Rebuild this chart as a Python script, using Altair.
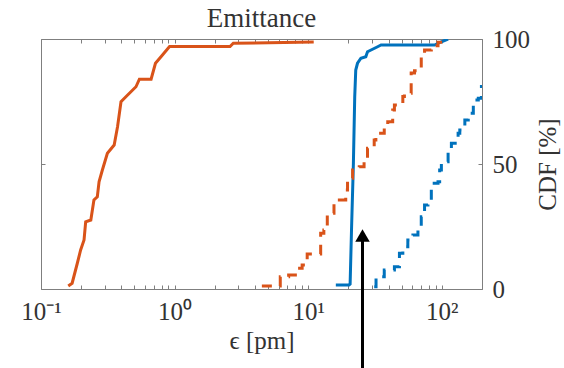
import altair as alt
import pandas as pd

# Cumulative distributions of emittance (pm) -> CDF (%)
orange_solid_x = [0.160, 0.171, 0.187, 0.198, 0.210, 0.216, 0.236, 0.249, 0.264, 0.272,
                  0.288, 0.314, 0.353, 0.374, 0.397, 0.432, 0.514, 0.545, 0.667, 0.719,
                  0.794, 0.917, 2.60, 2.75, 11.0]
orange_solid_y = [1.2, 2.3, 10.3, 15.6, 19.6, 26.9, 27.6, 35.6, 36.9, 42.9,
                  47.6, 54.3, 57.6, 64.9, 74.9, 76.9, 80.9, 83.9, 83.9, 90.3,
                  93.0, 97.0, 97.0, 98.3, 98.8]

blue_solid_x = [16.1, 20.2, 20.6, 21.1, 21.8, 22.3, 22.7, 23.4, 24.8, 27.0,
                27.8, 33.1, 35.1, 88.3, 99.3, 111.5]
blue_solid_y = [1.6, 1.6, 2.0, 23.6, 50.4, 76.8, 87.6, 90.3, 92.3, 92.9,
                94.9, 96.9, 97.6, 97.6, 98.9, 100.0]

orange_dash_x = [4.50, 6.18, 7.14, 8.27, 9.01, 9.83, 12.4, 13.1, 13.9, 14.7,
                 15.6, 19.1, 19.7, 21.5, 24.1, 26.2, 27.8, 31.2, 32.1, 37.1,
                 39.4, 42.9, 44.2, 51.1, 52.5, 59.0, 62.5, 70.2, 74.3, 83.5,
                 93.7, 104.7]
orange_dash_y = [1.2, 4.9, 5.6, 8.3, 9.6, 14.0, 22.3, 23.6, 29.6, 30.3,
                 35.6, 39.6, 44.3, 47.6, 48.9, 52.3, 56.3, 59.6, 62.3, 64.9,
                 66.9, 71.6, 73.6, 77.0, 78.3, 86.4, 87.3, 92.9, 95.6, 97.3,
                 98.7, 100.0]

blue_dash_x = [31.2, 32.2, 37.1, 44.2, 48.2, 51.1, 55.7, 60.8, 66.3, 70.2,
               74.3, 78.8, 83.5, 93.7, 96.4, 99.3, 111.5, 118.0, 132.5, 136.4,
               148.8, 157.8, 172.2, 187.6, 198.0]
blue_dash_y = [0.9, 4.9, 7.6, 8.9, 14.3, 16.9, 19.6, 21.6, 24.9, 28.9,
               33.6, 35.6, 42.3, 42.9, 47.6, 50.9, 55.6, 58.3, 62.3, 63.6,
               67.6, 70.3, 75.6, 76.3, 81.6]

series_names = ["orange_solid", "blue_solid", "orange_dash", "blue_dash"]
series_colors = ["#D95319", "#0072BD", "#D95319", "#0072BD"]

# Arrow marking the target emittance
arrow_eps = [25.5]
arrow_bottom = [-32.0]
arrow_top = [21.4]

# Axis ticks
x_major = [0.1, 1, 10, 100]
x_major_labels = ["10⁻¹", "10⁰", "10¹", "10²"]
x_ticks = sorted(set(round(m * d, 6) for d in [0.1, 1, 10, 100] for m in range(1, 10)
                     if m * d <= 200) | {200})
y_ticks = [0, 50, 100]

FONT = "Liberation Serif"
TEXT = "#333333"
FRAME = "#7f7f7f"

label_expr = " : ".join(
    f"datum.value == {v} ? '{t}'" for v, t in zip(x_major, x_major_labels)
) + " : ''"


def frame(names, xs_list, ys_list):
    rows = []
    for name, xs, ys in zip(names, xs_list, ys_list):
        for xv, yv in zip(xs, ys):
            rows.append({"series": name, "eps": xv, "cdf": yv})
    return pd.DataFrame(rows)


solid_df = frame(series_names[:2], [orange_solid_x, blue_solid_x],
                 [orange_solid_y, blue_solid_y])
dash_df = frame(series_names[2:], [orange_dash_x, blue_dash_x],
                [orange_dash_y, blue_dash_y])

x_scale = alt.Scale(type="log", domain=[0.1, 200], nice=False)
y_scale = alt.Scale(domain=[0, 100], nice=False)
color = alt.Color("series:N", scale=alt.Scale(domain=series_names, range=series_colors),
                  legend=None)

solid_lines = alt.Chart(solid_df).mark_line(strokeWidth=3, clip=True).encode(
    x=alt.X("eps:Q", scale=x_scale,
            axis=alt.Axis(orient="bottom", values=x_ticks, labelExpr=label_expr,
                          title="ϵ [pm]", offset=-4, tickSize=4, domain=False, grid=False,
                          labelPadding=10, labelOverlap=False, labelFlush=False,
                          titlePadding=4)),
    y=alt.Y("cdf:Q", scale=y_scale,
            axis=alt.Axis(orient="right", values=y_ticks, title="CDF [%]", titleAngle=270,
                          offset=-4, tickSize=4, domain=False, grid=False,
                          labelPadding=10, titlePadding=31, labelFlush=False)),
    color=color,
    detail="series:N",
)

dashed_lines = alt.Chart(dash_df).mark_line(
    strokeWidth=3, clip=True, interpolate="step-after", strokeDash=[10, 8]
).encode(
    x=alt.X("eps:Q", scale=x_scale, axis=None),
    y=alt.Y("cdf:Q", scale=y_scale, axis=None),
    color=color,
    detail="series:N",
)

arrow_df = pd.DataFrame({"eps": arrow_eps, "lo": arrow_bottom, "hi": arrow_top})

arrow_shaft = alt.Chart(arrow_df).mark_rule(color="black", strokeWidth=3).encode(
    x=alt.X("eps:Q", scale=x_scale,
            axis=alt.Axis(orient="top", values=x_ticks, labels=False, title=None,
                          offset=-4, tickSize=4, domain=False, grid=False)),
    y=alt.Y("lo:Q", scale=y_scale,
            axis=alt.Axis(orient="left", values=y_ticks, labels=False, title=None,
                          offset=-4, tickSize=4, domain=False, grid=False)),
    y2="hi:Q",
)

arrow_head = alt.Chart(arrow_df).mark_point(
    shape="triangle-up", filled=True, size=210, color="black", opacity=1
).encode(
    x=alt.X("eps:Q", scale=x_scale, axis=None),
    y=alt.Y("hi:Q", scale=y_scale, axis=None),
)

chart = alt.layer(solid_lines, dashed_lines, arrow_shaft, arrow_head).resolve_axis(
    x="independent", y="independent"
).properties(
    width=441,
    height=250,
    title=alt.TitleParams("Emittance", font=FONT, fontSize=27, fontWeight="normal",
                          color=TEXT, anchor="middle", offset=-6),
    autosize=alt.AutoSizeParams(type="none"),
    padding={"left": 41, "top": 39, "right": 82, "bottom": 79},
).configure_view(
    stroke=FRAME, strokeWidth=1
).configure_axis(
    labelFont=FONT, titleFont=FONT, labelFontSize=25, titleFontSize=25,
    labelColor=TEXT, titleColor=TEXT, titleFontWeight="normal",
    tickColor=FRAME, tickWidth=1,
)

chart.save("out.html", embed_options={"renderer": "svg", "actions": False})
